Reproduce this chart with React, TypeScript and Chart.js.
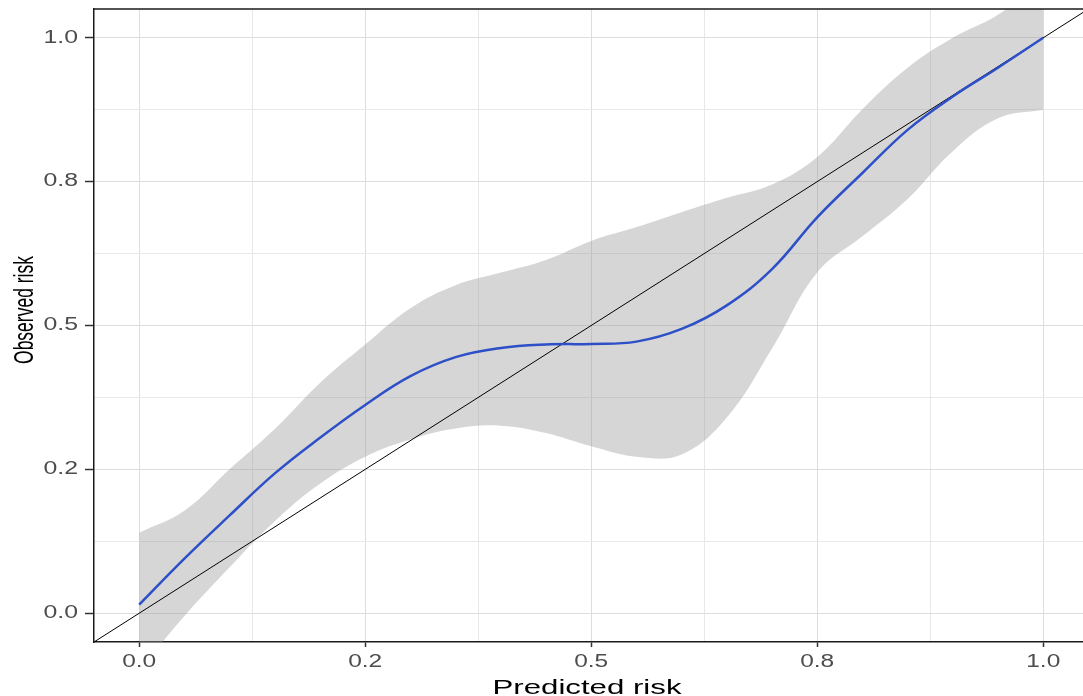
import React, { useEffect, useRef } from "react";
import { Chart, registerables } from "chart.js";

Chart.register(...registerables);

// ---- data ----
const predicted = [0, 0.05, 0.1, 0.15, 0.2, 0.25, 0.3, 0.35, 0.4, 0.45, 0.5, 0.55, 0.6, 0.65, 0.7, 0.75, 0.8, 0.85, 0.9, 0.95, 1.0];
const observed = [0.015, 0.095, 0.17, 0.243, 0.305, 0.362, 0.412, 0.445, 0.461, 0.467, 0.468, 0.472, 0.494, 0.535, 0.598, 0.688, 0.765, 0.84, 0.898, 0.948, 1.0];
const upperCI = [0.14, 0.178, 0.25, 0.32, 0.4, 0.467, 0.53, 0.57, 0.592, 0.614, 0.647, 0.671, 0.697, 0.722, 0.745, 0.793, 0.876, 0.948, 1.0, 1.04, 1.1];
const lowerCI = [-0.1, -0.005, 0.08, 0.16, 0.225, 0.272, 0.302, 0.321, 0.326, 0.313, 0.29, 0.272, 0.276, 0.34, 0.46, 0.592, 0.655, 0.72, 0.803, 0.86, 0.875];
const diagonal = [-0.05, 1.05];

const majorTicks = [0, 0.25, 0.5, 0.75, 1.0];
const gridTicks = [0, 0.125, 0.25, 0.375, 0.5, 0.625, 0.75, 0.875, 1.0];
const xTickLabels = ["0.0", "0.2", "0.5", "0.8", "1.0"];
const yTickLabels = ["0.0", "0.2", "0.5", "0.8", "1.0"];
const xTitle = "Predicted risk";
const yTitle = "Observed risk";

const FONT = "'Liberation Sans', Arial, sans-serif";

const isMajor = (v: number) => majorTicks.some((m) => Math.abs(m - v) < 1e-9);

const textPlugin = {
  id: "ggText",
  afterDraw(chart: any) {
    const ctx = chart.ctx as CanvasRenderingContext2D;
    const xs = chart.scales.x;
    const ys = chart.scales.y;
    const area = chart.chartArea;
    ctx.save();
    // top panel border
    ctx.strokeStyle = "#1a1a1a";
    ctx.lineWidth = 1.5;
    ctx.beginPath();
    ctx.moveTo(area.left, area.top);
    ctx.lineTo(area.right, area.top);
    ctx.stroke();

    // x tick labels
    ctx.fillStyle = "#4d4d4d";
    ctx.font = `17.5px ${FONT}`;
    ctx.textAlign = "center";
    ctx.textBaseline = "middle";
    majorTicks.forEach((v, i) => {
      const px = xs.getPixelForValue(v);
      ctx.save();
      ctx.translate(px, 662.5);
      ctx.scale(1.4, 1);
      ctx.fillText(xTickLabels[i], 0, 0);
      ctx.restore();
    });
    // y tick labels
    ctx.textAlign = "right";
    majorTicks.forEach((v, i) => {
      const py = ys.getPixelForValue(v);
      ctx.save();
      ctx.translate(78, py);
      ctx.scale(1.42, 1);
      ctx.fillText(yTickLabels[i], 0, 0);
      ctx.restore();
    });

    // x title
    ctx.fillStyle = "#000";
    ctx.font = `19.5px ${FONT}`;
    ctx.textAlign = "center";
    ctx.textBaseline = "alphabetic";
    ctx.save();
    ctx.translate(587, 694);
    ctx.scale(1.6, 1);
    ctx.fillText(xTitle, 0, 0);
    ctx.restore();

    // y title
    ctx.font = `17.5px ${FONT}`;
    ctx.save();
    ctx.translate(33, 310);
    ctx.scale(1.55, 1);
    ctx.rotate(-Math.PI / 2);
    ctx.fillText(yTitle, 0, 0);
    ctx.restore();

    ctx.restore();
  },
};

export default function App() {
  const ref = useRef<HTMLCanvasElement | null>(null);

  useEffect(() => {
    if (!ref.current) return;
    const pts = (ys: number[]) => predicted.map((x, i) => ({ x, y: ys[i] }));
    const chart = new Chart(ref.current, {
      type: "line",
      data: {
        datasets: [
          {
            label: "observed",
            data: pts(observed),
            borderColor: "#2d4fc7",
            borderWidth: 2.5,
            pointRadius: 0,
            fill: false,
            tension: 0.4,
          },
          {
            label: "diagonal",
            data: diagonal.map((v) => ({ x: v, y: v })),
            borderColor: "#000000",
            borderWidth: 1,
            pointRadius: 0,
            fill: false,
          },
          {
            label: "upper",
            data: pts(upperCI),
            borderWidth: 0,
            borderColor: "rgba(0,0,0,0)",
            pointRadius: 0,
            fill: "+1",
            backgroundColor: "rgba(153,153,153,0.4)",
            tension: 0.4,
          },
          {
            label: "lower",
            data: pts(lowerCI),
            borderWidth: 0,
            borderColor: "rgba(0,0,0,0)",
            pointRadius: 0,
            fill: false,
            tension: 0.4,
          },
        ],
      } as any,
      options: {
        animation: false,
        responsive: false,
        devicePixelRatio: 1,
        layout: { padding: { top: 9, left: 0, right: 0, bottom: 0 } },
        plugins: {
          legend: { display: false },
          tooltip: { enabled: false },
        },
        scales: {
          x: {
            type: "linear",
            min: -0.05,
            max: 1.044,
            afterBuildTicks: (s: any) => {
              s.ticks = gridTicks.map((v) => ({ value: v }));
            },
            afterFit: (s: any) => {
              s.height = 54;
            },
            ticks: { display: false },
            grid: {
              color: (c: any) => (isMajor(c.tick?.value) ? "#dedede" : "#e8e8e8"),
              lineWidth: 1,
              tickLength: 5,
              tickWidth: 1.5,
              tickColor: (c: any) => (isMajor(c.tick?.value) ? "#333333" : "rgba(0,0,0,0)"),
            },
            border: { display: true, color: "#1a1a1a", width: 1.5 },
          },
          y: {
            type: "linear",
            min: -0.05,
            max: 1.05,
            afterBuildTicks: (s: any) => {
              s.ticks = gridTicks.map((v) => ({ value: v }));
            },
            afterFit: (s: any) => {
              s.width = 94;
            },
            ticks: { display: false },
            grid: {
              color: (c: any) => (isMajor(c.tick?.value) ? "#dedede" : "#e8e8e8"),
              lineWidth: 1,
              tickLength: 9,
              tickWidth: 1.5,
              tickColor: (c: any) => (isMajor(c.tick?.value) ? "#333333" : "rgba(0,0,0,0)"),
            },
            border: { display: true, color: "#1a1a1a", width: 1.5 },
          },
        },
      } as any,
      plugins: [textPlugin],
    });
    return () => chart.destroy();
  }, []);

  return (
    <div style={{ position: "absolute", left: 0, top: 0, width: 1083, height: 696, background: "#fff" }}>
      <canvas ref={ref} width={1083} height={696} style={{ display: "block" }} />
    </div>
  );
}
